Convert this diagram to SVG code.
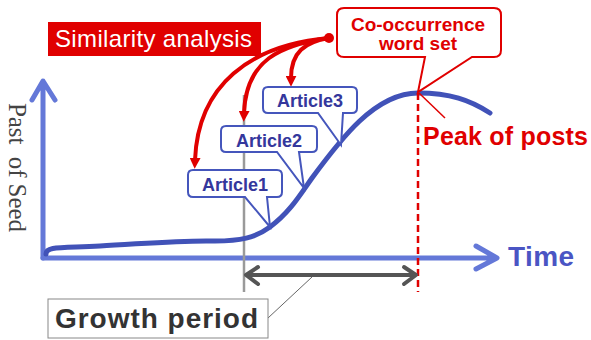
<svg xmlns="http://www.w3.org/2000/svg" width="591" height="340" viewBox="0 0 591 340">
<style>
.sans{font-family:"Liberation Sans",Arial,sans-serif}
.axis{fill:none;stroke:#6478d8;stroke-width:5;stroke-linecap:round;stroke-linejoin:round}
.callout{fill:#fff;stroke:#4556bc;stroke-width:2}
.art{font-family:"Liberation Sans",Arial,sans-serif;font-weight:bold;font-size:18px;fill:#34379c;text-anchor:middle}
.red{fill:none;stroke:#e00000;stroke-width:4}
</style>
<defs>
<marker id="ah" viewBox="0 0 10 10" refX="2" refY="5" markerWidth="11" markerHeight="11" markerUnits="userSpaceOnUse" orient="auto">
<path d="M0,0 L10,5 L0,10 z" fill="#e00000"/>
</marker>
</defs>
<g id="axes">
<path class="axis" d="M43,258 V82 M32,100 L43,81 L55,100"/>
<path class="axis" d="M43,258 H495 M476,246 L497,258 L476,269"/>
<text class="sans" x="508" y="266" font-size="28" font-weight="bold" fill="#4a55c4" textLength="66">Time</text>
<text x="0" y="0" transform="translate(9,103) rotate(90)" font-family="'Liberation Serif','Times New Roman',serif" font-size="25" fill="#444" textLength="129" xml:space="preserve">Past  of Seed</text>
</g>
<g id="growth-marker">
<line x1="244" y1="95" x2="244" y2="292" stroke="#9a9a9a" stroke-width="2.5"/>
</g>
<g id="curve">
<path d="M46,254 C46,246 60,248 100,246 C140,244 180,240 215,241 C240,241 255,238 270,227 C290,212 300,195 312,178 C340,140 375,93 418,93 C450,93 470,100 490,113" fill="none" stroke="#4152b8" stroke-width="5" stroke-linecap="round"/>
</g>
<g id="connectors">
<line x1="418" y1="93" x2="418" y2="292" stroke="#e00000" stroke-width="2.5" stroke-dasharray="7,4"/>
<line x1="445" y1="118" x2="419" y2="93" stroke="#e00000" stroke-width="1.5"/>
<path d="M247,275 H416" stroke="#555" stroke-width="4" fill="none"/>
<polyline points="258,267 246,275 258,284" fill="none" stroke="#555" stroke-width="4" stroke-linecap="round" stroke-linejoin="round"/>
<polyline points="404,267 416,275 404,284" fill="none" stroke="#555" stroke-width="4" stroke-linecap="round" stroke-linejoin="round"/>
<line x1="268" y1="318" x2="312" y2="277" stroke="#666" stroke-width="1"/>
<path class="red" d="M329,38 C250,45 198,85 195,160" marker-end="url(#ah)"/>
<path class="red" d="M329,38 C280,45 246,60 244,113" marker-end="url(#ah)"/>
<path class="red" d="M329,38 C305,42 291,52 291,78" marker-end="url(#ah)"/>
<circle cx="329" cy="38" r="5" fill="#e00000"/>
</g>
<g id="similarity">
<rect x="48" y="22" width="213" height="34" fill="#e00000"/>
<text class="sans" x="55" y="47" font-size="24" fill="#fff" textLength="197">Similarity analysis</text>
</g>
<g id="cooccurrence">
<path d="M344,8 H494 Q501,8 501,15 V50 Q501,57 494,57 H472 L418,92 L425,57 H344 Q337,57 337,50 V15 Q337,8 344,8 Z" fill="#fff" stroke="#e00000" stroke-width="2"/>
<text class="sans" x="418" y="31" font-size="19" font-weight="bold" fill="#e00000" text-anchor="middle">Co-occurrence</text>
<text class="sans" x="418" y="50" font-size="19" font-weight="bold" fill="#e00000" text-anchor="middle">word set</text>
</g>
<g id="peak">
<text class="sans" x="423" y="145" font-size="25" font-weight="bold" fill="#e00000" textLength="165">Peak of posts</text>
</g>
<g id="article3">
<path class="callout" d="M268,87 H352 Q357,87 357,92 V108 Q357,113 352,113 H343 L341,145 L318,113 H268 Q263,113 263,108 V92 Q263,87 268,87 Z"/>
<text class="art" x="310" y="107">Article3</text>
</g>
<g id="article2">
<path class="callout" d="M226,126 H312 Q317,126 317,131 V147 Q317,152 312,152 H299 L304,188 L277,152 H226 Q221,152 221,147 V131 Q221,126 226,126 Z"/>
<text class="art" x="269" y="147">Article2</text>
</g>
<g id="article1">
<path class="callout" d="M193,170 H277 Q282,170 282,175 V192 Q282,197 277,197 H267 L270,227 L245,197 H193 Q188,197 188,192 V175 Q188,170 193,170 Z"/>
<text class="art" x="235" y="191">Article1</text>
</g>
<g id="growth-period">
<rect x="48" y="299" width="220" height="39" fill="#fff" stroke="#888" stroke-width="1"/>
<text class="sans" x="55" y="328" font-size="28" font-weight="bold" fill="#333" textLength="203">Growth period</text>
</g>
</svg>
